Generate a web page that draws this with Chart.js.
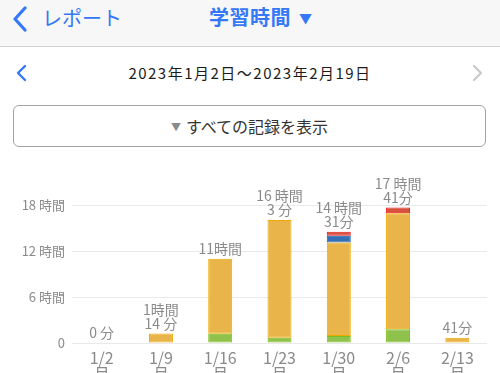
<!DOCTYPE html>
<html lang="ja">
<head>
<meta charset="utf-8">
<script src="https://cdn.jsdelivr.net/npm/chart.js@4"></script>
<style>
  html, body { margin: 0; padding: 0; background: #fff; }
  body { width: 500px; height: 373px; overflow: hidden; position: relative; font-family: "Noto Sans CJK JP", "Noto Sans", sans-serif; }
  .topbar { position: absolute; left: 0; top: 0; width: 500px; height: 46px; background: #F7F7F7; border-bottom: 1px solid #D2D2D2; }
  .back { position: absolute; left: 42px; top: 3px; font-size: 20px; color: #3478F6; }
  .title { position: absolute; left: 0; width: 500px; top: 2px; text-align: center; font-size: 20px; font-weight: bold; color: #3478F6; letter-spacing: 0.5px; }
  .tri { position: absolute; left: 299px; top: 8px; font-size: 13px; color: #3478F6; }
  .range { position: absolute; left: 0; width: 500px; top: 62px; text-align: center; font-size: 15px; color: #1C1C1C; letter-spacing: 1.5px; }
  .btn { position: absolute; left: 13px; top: 105px; width: 471px; height: 40px; border: 1px solid #A3A3A3; border-radius: 6px; text-align: center; line-height: 40px; font-size: 16px; color: #333; }
  .btn span { color: #8A8A8A; font-size: 10px; position: relative; top: -2px; margin-right: 5px; }
  svg { position: absolute; }
  #chart { position: absolute; left: 0; top: 165px; }
</style>
</head>
<body>
<div class="topbar">
  <svg style="left:10px;top:6px" width="20" height="26"><polyline points="15,2 5,13 15,24" fill="none" stroke="#3478F6" stroke-width="3.2" stroke-linecap="round" stroke-linejoin="round"/></svg>
  <div class="back">レポート</div>
  <div class="title">学習時間</div>
  <div class="tri">▼</div>
</div>
<svg style="left:15px;top:64px" width="14" height="18"><polyline points="10,2 3,9 10,16" fill="none" stroke="#3478F6" stroke-width="2.4" stroke-linecap="round" stroke-linejoin="round"/></svg>
<div class="range">2023年1月2日〜2023年2月19日</div>
<svg style="left:470px;top:64px" width="14" height="18"><polyline points="4,2 11,9 4,16" fill="none" stroke="#C9C9C9" stroke-width="2.2" stroke-linecap="round" stroke-linejoin="round"/></svg>
<div class="btn"><span>▼</span>すべての記録を表示</div>
<canvas id="chart" width="500" height="230"></canvas>
<script>
const weeks = ['1/2', '1/9', '1/16', '1/23', '1/30', '2/6', '2/13'];
const greenHours = [null, null, 1.2, 0.7, 0.9, 1.8, null];
const orangeHours = [null, 1.23, 9.8, 15.35, 12.2, 15.13, 0.68];
const blueHours = [null, null, null, null, 0.9, null, null];
const redHours = [null, null, null, null, 0.5, 0.75, null];
const totalLabels = [['0 分'], ['1時間', '14 分'], ['11時間'], ['16 時間', '3 分'], ['14 時間', '31分'], ['17 時間', '41分'], ['41分']];
const yTicks = [0, 6, 12, 18];

// 各週の合計をバーの上に表示
const totalsPlugin = {
  id: 'totals',
  afterDatasetsDraw(chart) {
    const ctx = chart.ctx;
    const x = chart.scales.x, y = chart.scales.y;
    ctx.save();
    ctx.fillStyle = '#8A8A8A';
    ctx.font = '14px "Noto Sans CJK JP"';
    ctx.textAlign = 'center';
    ctx.textBaseline = 'middle';
    weeks.forEach((w, i) => {
      let total = 0;
      chart.data.datasets.forEach(ds => { total += ds.data[i] || 0; });
      const top = y.getPixelForValue(total);
      const lines = totalLabels[i];
      lines.forEach((t, j) => {
        ctx.fillText(t, x.getPixelForValue(i), top - 10 - (lines.length - 1 - j) * 14);
      });
    });
    ctx.restore();
  }
};

function seg(label, data, fill, border) {
  return { label, data, backgroundColor: fill, borderColor: border, borderWidth: 1, borderSkipped: false };
}

new Chart(document.getElementById('chart'), {
  type: 'bar',
  data: {
    labels: weeks.map(w => [w, '月']),
    datasets: [
      seg('green', greenHours, '#8FC24C', '#7DBE1C'),
      seg('orange', orangeHours, '#E9B449', '#EFA900'),
      seg('blue', blueHours, '#3470B4', '#1F5FB0'),
      seg('red', redHours, '#D9513B', '#E5161C')
    ]
  },
  options: {
    responsive: false,
    animation: false,
    devicePixelRatio: 1,
    layout: { padding: { top: 40, right: 13, left: 0, bottom: 0 } },
    datasets: { bar: { categoryPercentage: 1, barPercentage: 0.405 } },
    scales: {
      x: {
        stacked: true,
        grid: { display: false, drawTicks: false },
        border: { display: false },
        ticks: { color: '#8A8A8A', font: { size: 16, family: '"Noto Sans CJK JP"', lineHeight: 1.0 }, padding: 7, maxRotation: 0 },
        afterFit: s => { s.height = 52; }
      },
      y: {
        stacked: true,
        min: 0,
        max: 18,
        afterBuildTicks: s => { s.ticks = yTicks.map(v => ({ value: v })); },
        grid: { color: '#E9E9E9', drawTicks: false },
        border: { display: false },
        ticks: {
          color: '#8A8A8A',
          font: { size: 13, family: '"Noto Sans CJK JP"' },
          padding: 7,
          callback: v => v === 0 ? '0' : v + ' 時間'
        },
        afterFit: s => { s.width = 72; }
      }
    },
    plugins: { legend: { display: false }, tooltip: { enabled: false } }
  },
  plugins: [totalsPlugin]
});
</script>
</body>
</html>
